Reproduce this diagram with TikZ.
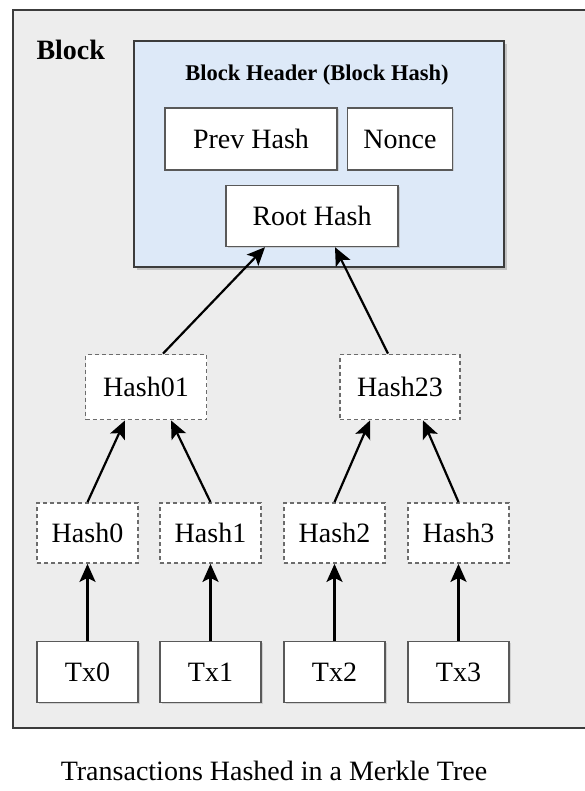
\documentclass[tikz,border=0pt]{standalone}
\usepackage{fontspec}
\setmainfont{Liberation Serif}
\usetikzlibrary{arrows.meta,shadows}
\definecolor{blockgray}{HTML}{EDEDED}
\definecolor{headblue}{HTML}{DDE9F8}
\definecolor{edgegray}{HTML}{3C3C3C}
\tikzset{
  solidbox/.style={draw=edgegray!85,line width=1.4pt,fill=white,inner sep=0pt,
    drop shadow={shadow xshift=1.5pt,shadow yshift=-1.5pt,fill=gray!60}},
  hashbox/.style={draw=gray!85!black,dash pattern=on 4pt off 3pt,line width=1.8pt,fill=white,inner sep=0pt},
  link/.style={-{Stealth[length=18pt,width=16pt,inset=4pt]},line width=2.2pt,black}
}
\begin{document}
\begin{tikzpicture}[x=1pt,y=-1pt,font=\fontsize{28}{30}\selectfont]
				\useasboundingbox (0,0) rectangle (584,791);
				\path[fill=white] (0,0) rectangle (584,791);
				% outer block
				\draw[fill=blockgray,draw=edgegray,line width=2.2pt] (13,10) rectangle (600,728);
				\node[anchor=west,font=\fontsize{28}{30}\selectfont\bfseries] (blocklbl) at (33,50) {Block};
				% header
				\node[draw=edgegray,line width=2.5pt,fill=headblue,minimum width=370,minimum height=226,
				      drop shadow={shadow xshift=3pt,shadow yshift=-3pt,fill=gray!80}] (header) at (319,154) {};
				\node[font=\fontsize{22.5}{25}\selectfont\bfseries] (headtitle) at (317,75) {Block Header (Block Hash)};
				\node[solidbox,minimum width=172,minimum height=62] (prev) at (251,139) {Prev Hash};
				\node[solidbox,minimum width=105,minimum height=62] (nonce) at (400,139) {Nonce};
				\node[solidbox,minimum width=172,minimum height=61] (root) at (312,216) {Root Hash};
				% tree
				\node[hashbox,minimum width=121,minimum height=65] (h01) at (146,387) {Hash01};
				\node[hashbox,minimum width=120,minimum height=65] (h23) at (400,387) {Hash23};
				\foreach \i/\x in {0/87.5,1/210.5,2/334.5,3/458.5}{
					\node[hashbox,minimum width=101,minimum height=60] (h\i) at (\x,533) {Hash\i};
					\node[solidbox,minimum width=101,minimum height=61] (tx\i) at (\x,672) {Tx\i};
					\draw[link] (tx\i.north) -- (h\i.south);
				}
				\draw[link] (h0.north) -- ([xshift=-21pt]h01.south);
				\draw[link] (h1.north) -- ([xshift=25pt]h01.south);
				\draw[link] (h2.north) -- ([xshift=-30pt]h23.south);
				\draw[link] (h3.north) -- ([xshift=23pt]h23.south);
				\draw[link] ([xshift=17pt]h01.north) -- ([xshift=-47pt]root.south);
				\draw[link] ([xshift=-12pt]h23.north) -- ([xshift=23pt]root.south);
				\node (caption) at (274,771) {Transactions Hashed in a Merkle Tree};
			\end{tikzpicture}
\end{document}
